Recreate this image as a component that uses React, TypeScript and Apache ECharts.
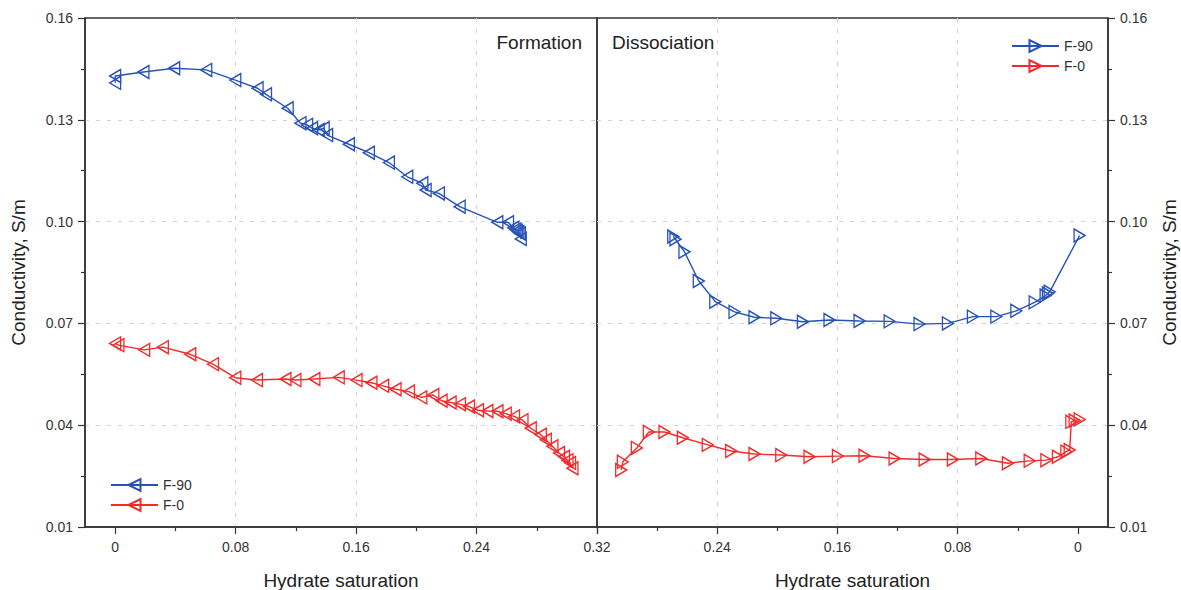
import React, { useEffect, useRef } from "react";
import * as echarts from "echarts";

const formationF90: number[][] = [
  [0, 0.1409], [0, 0.1429], [0.0188, 0.1441], [0.0392, 0.1452], [0.0605, 0.1447],
  [0.0798, 0.1417], [0.0946, 0.1393], [0.1002, 0.1375], [0.1146, 0.1334], [0.1231, 0.129],
  [0.1275, 0.1285], [0.1308, 0.1275], [0.1352, 0.127], [0.1385, 0.1275], [0.1408, 0.1255],
  [0.1552, 0.1228], [0.1685, 0.1203], [0.1818, 0.1174], [0.194, 0.1132], [0.204, 0.1113],
  [0.2062, 0.1093], [0.215, 0.1083], [0.2288, 0.1044], [0.2538, 0.0998], [0.2609, 0.0998],
  [0.2645, 0.0982], [0.2658, 0.0977], [0.2668, 0.0973], [0.2678, 0.0969], [0.2688, 0.0965],
  [0.2694, 0.0949],
];

const formationF0: number[][] = [
  [0, 0.0641], [0.0022, 0.0636], [0.0193, 0.0622], [0.0317, 0.063], [0.0499, 0.0609],
  [0.065, 0.058], [0.0798, 0.054], [0.0942, 0.0533], [0.1131, 0.0536], [0.1197, 0.0533],
  [0.1323, 0.0536], [0.1485, 0.0541], [0.1603, 0.0533], [0.1702, 0.0525], [0.178, 0.0516],
  [0.1862, 0.0506], [0.1951, 0.0499], [0.2033, 0.0482], [0.2113, 0.0489], [0.2168, 0.0472],
  [0.2228, 0.0467], [0.229, 0.0462], [0.235, 0.0455], [0.241, 0.0444], [0.2472, 0.0442],
  [0.2539, 0.0441], [0.2594, 0.0434], [0.2649, 0.0426], [0.2705, 0.0415], [0.276, 0.0391],
  [0.2827, 0.0372], [0.286, 0.0357], [0.2904, 0.0338], [0.2948, 0.0318], [0.2981, 0.0307],
  [0.3004, 0.0297], [0.3021, 0.0289], [0.3037, 0.0273],
];

const dissociationF90: number[][] = [
  [0.2693, 0.0956], [0.2678, 0.0948], [0.2618, 0.0911], [0.2523, 0.0825], [0.2413, 0.0764],
  [0.2285, 0.0734], [0.2152, 0.0718], [0.2007, 0.0715], [0.183, 0.0705], [0.1653, 0.071],
  [0.1453, 0.0707], [0.1253, 0.0706], [0.1054, 0.0698], [0.0865, 0.07], [0.0699, 0.072],
  [0.0543, 0.072], [0.041, 0.0737], [0.0288, 0.0762], [0.0215, 0.0782], [0.02, 0.0788],
  [0.0188, 0.0793], [-0.0011, 0.0959],
];

const dissociationF0: number[][] = [
  [0.3039, 0.0268], [0.3028, 0.0292], [0.2935, 0.0333], [0.2855, 0.038], [0.2751, 0.038],
  [0.2629, 0.0363], [0.2463, 0.0342], [0.2307, 0.0324], [0.2152, 0.0315], [0.1974, 0.0312],
  [0.1786, 0.0307], [0.1597, 0.0309], [0.142, 0.031], [0.122, 0.0302], [0.102, 0.0299],
  [0.0832, 0.0299], [0.0643, 0.0302], [0.0466, 0.0288], [0.0321, 0.0295], [0.021, 0.0297],
  [0.0133, 0.0307], [0.0077, 0.0322], [0.0055, 0.0327], [0.0044, 0.041], [0.0022, 0.0414],
  [-0.0011, 0.0417],
];

const xMajorTicks = [0, 0.08, 0.16, 0.24, 0.32];
const xMinorTicks = [0.04, 0.12, 0.2, 0.28];
const rightXLabels = [0, 0.08, 0.16, 0.24];

const BLUE = "#2652b8";
const RED = "#f42a2a";
const AXIS = "#333333";
const FONT = "Liberation Sans, Arial, sans-serif";
const LEFT_TRI = "path://M0,6.5L11,0L11,13Z";
const RIGHT_TRI = "path://M11,6.5L0,0L0,13Z";

const fmtX = (v: number) => (Math.abs(v) < 1e-9 ? "0" : String(+v.toFixed(2)));

function mainX(gridIndex: number, inverse: boolean, labels: number[]) {
  return {
    type: "value",
    gridIndex,
    position: "bottom",
    min: -0.02,
    max: 0.32,
    inverse,
    name: "Hydrate saturation",
    nameLocation: "middle",
    nameGap: 44,
    nameTextStyle: { fontSize: 19, color: "#222", fontFamily: FONT },
    axisLine: { show: true, onZero: false, lineStyle: { color: AXIS, width: 1.5 } },
    axisTick: { show: true, customValues: xMajorTicks, length: 7, lineStyle: { color: AXIS, width: 1.2 } },
    axisLabel: { customValues: labels, formatter: fmtX, fontSize: 14, color: "#333", margin: 13, fontFamily: FONT },
    splitLine: { show: true, showMinLine: false, showMaxLine: false, lineStyle: { color: "#d2d2d2", type: [4, 7], width: 1 } },
  };
}

function minorX(gridIndex: number, inverse: boolean) {
  return {
    type: "value",
    gridIndex,
    position: "bottom",
    min: -0.02,
    max: 0.32,
    inverse,
    axisLine: { show: false, onZero: false },
    axisTick: { show: true, customValues: xMinorTicks, length: 4, lineStyle: { color: AXIS, width: 1.2 } },
    axisLabel: { show: false, customValues: xMinorTicks },
    splitLine: { show: false },
  };
}

function yAx(gridIndex: number, position: string, nameGap: number) {
  return {
    type: "value",
    gridIndex,
    position,
    min: 0.01,
    max: 0.16,
    interval: 0.03,
    name: "Conductivity, S/m",
    nameLocation: "middle",
    nameGap,
    nameTextStyle: { fontSize: 19, color: "#222", fontFamily: FONT },
    axisLine: { show: true, onZero: false, lineStyle: { color: AXIS, width: 1.5 } },
    axisTick: { show: true, length: 7, lineStyle: { color: AXIS, width: 1.2 } },
    minorTick: { show: true, splitNumber: 2, length: 4, lineStyle: { color: AXIS, width: 1.2 } },
    axisLabel: { formatter: (v: number) => v.toFixed(2), fontSize: 14, color: "#333", margin: 12, fontFamily: FONT },
    splitLine: { show: true, showMinLine: false, showMaxLine: false, lineStyle: { color: "#d2d2d2", type: [4, 7], width: 1 } },
  };
}

function ser(name: string, data: number[][], color: string, symbol: string, xi: number, yi: number) {
  return {
    type: "line",
    name,
    data,
    xAxisIndex: xi,
    yAxisIndex: yi,
    symbol,
    symbolSize: [11, 13],
    showAllSymbol: true,
    clip: false,
    lineStyle: { color, width: 1.4 },
    itemStyle: { color: "rgba(255,255,255,0)", borderColor: color, borderWidth: 1.4 },
    emphasis: { disabled: true },
  };
}

export default function App() {
  const ref = useRef<HTMLDivElement>(null);
  useEffect(() => {
    document.body.style.margin = "0";
    if (!ref.current) return;
    const chart = echarts.init(ref.current, null, { renderer: "svg" });
    const legendBase = {
      orient: "vertical",
      itemWidth: 47,
      itemHeight: 15,
      itemGap: 6,
      textStyle: { fontSize: 14, color: "#333", fontFamily: FONT },
      selectedMode: false,
    };
    const gridBase = {
      top: 18,
      bottom: 63,
      show: true,
      borderColor: AXIS,
      borderWidth: 1.5,
      containLabel: false,
      outerBoundsMode: "none",
    };
    chart.setOption({
      animation: false,
      backgroundColor: "#ffffff",
      textStyle: { fontFamily: FONT },
      grid: [
        { ...gridBase, left: 85, right: 1181 - 597 },
        { ...gridBase, left: 597, right: 73 },
      ],
      xAxis: [mainX(0, false, xMajorTicks), mainX(1, true, rightXLabels), minorX(0, false), minorX(1, true)],
      yAxis: [yAx(0, "left", 57), yAx(1, "right", 52)],
      legend: [
        { ...legendBase, data: ["F-90", "F-0"], left: 105, top: 473 },
        {
          ...legendBase,
          data: ["F-90 D", "F-0 D"],
          formatter: (n: string) => n.replace(" D", ""),
          left: 1006,
          top: 34,
        },
      ],
      graphic: [
        { type: "text", right: 1181 - 582, top: 33, style: { text: "Formation", fontSize: 19, fill: "#222", fontFamily: FONT } },
        { type: "text", left: 612, top: 33, style: { text: "Dissociation", fontSize: 19, fill: "#222", fontFamily: FONT } },
      ],
      series: [
        ser("F-90", formationF90, BLUE, LEFT_TRI, 0, 0),
        ser("F-0", formationF0, RED, LEFT_TRI, 0, 0),
        ser("F-90 D", dissociationF90, BLUE, RIGHT_TRI, 1, 1),
        ser("F-0 D", dissociationF0, RED, RIGHT_TRI, 1, 1),
      ],
    });
    return () => chart.dispose();
  }, []);
  return <div ref={ref} style={{ width: 1181, height: 590 }} />;
}
